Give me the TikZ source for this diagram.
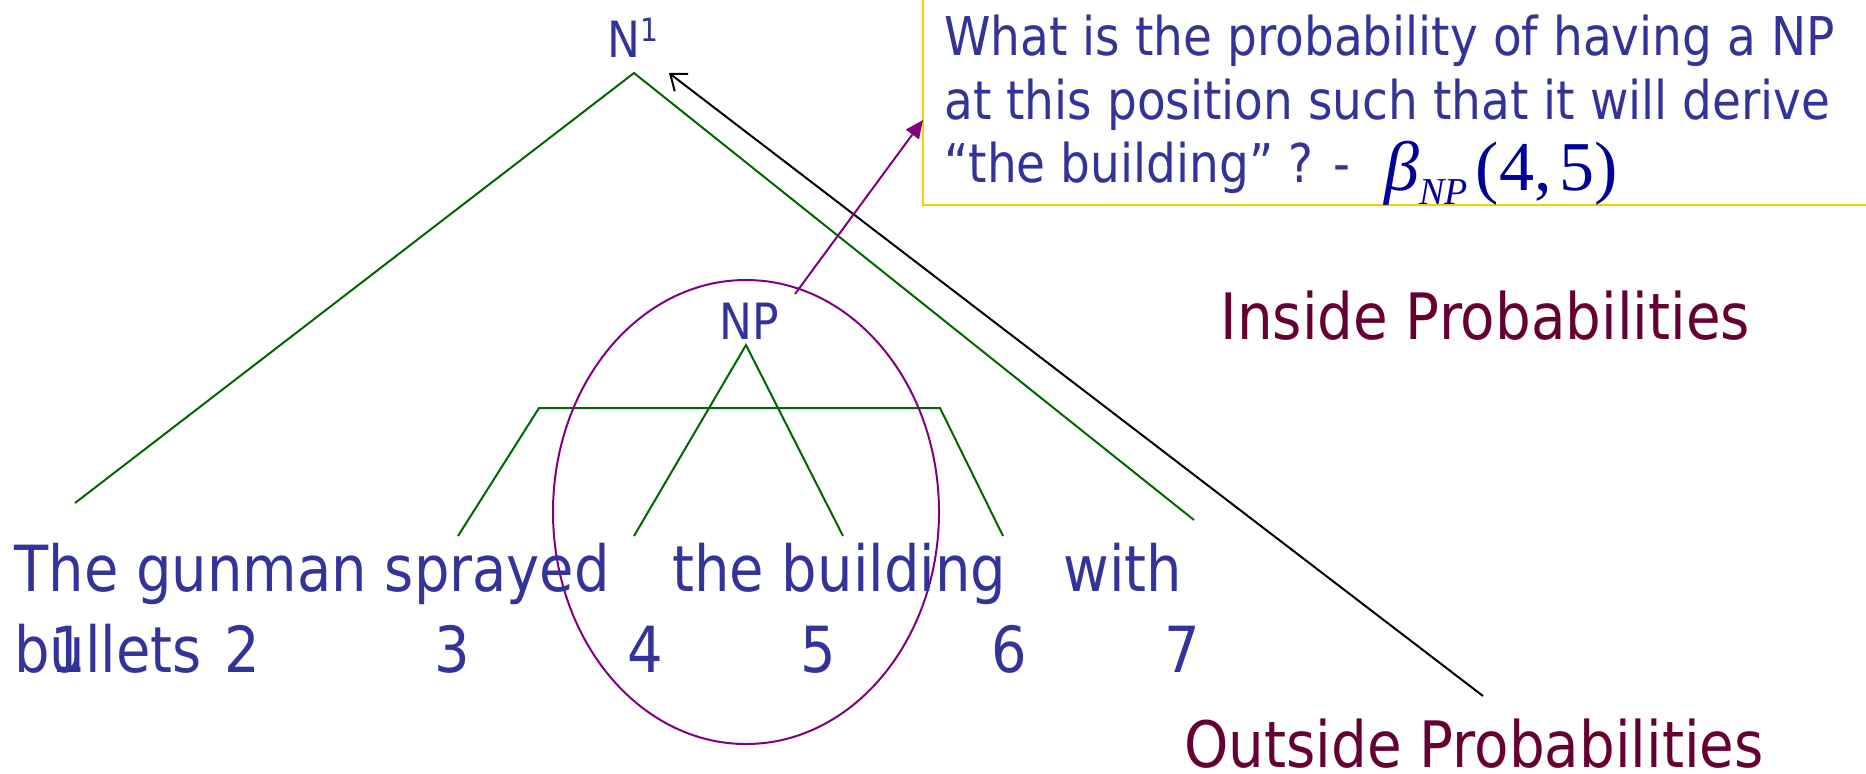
\documentclass[tikz,border=0pt]{standalone}
\usepackage{fontspec}
\setmainfont{DejaVu Sans}[FakeStretch=0.88]
\newfontfamily\tms{Liberation Serif}
\usetikzlibrary{arrows.meta}
\definecolor{txt}{HTML}{333399}
\definecolor{tree}{HTML}{006600}
\definecolor{purp}{HTML}{800080}
\definecolor{gold}{HTML}{FFCC00}
\definecolor{maroonc}{HTML}{660033}
\definecolor{betac}{HTML}{000099}
\begin{document}
\begin{tikzpicture}[x=0.5pt,y=-0.5pt,
  lbl/.style={inner sep=0pt, anchor=base west, text=txt},
  sent/.style={lbl, font=\fontsize{31.8pt}{38pt}\selectfont},
  boxtxt/.style={lbl, font=\fontsize{26.7pt}{32pt}\selectfont},
  cat/.style={lbl, font=\fontsize{25pt}{30pt}\selectfont},
  head/.style={inner sep=0pt, anchor=base west, text=maroonc, font=\fontsize{32pt}{38pt}\selectfont},
  treeline/.style={draw=tree, line width=1pt},
  outarrow/.style={draw=black, line width=1pt, -{Straight Barb[length=7pt,width=11pt,line width=1pt]}},
  inarrow/.style={draw=purp, line width=1pt, -{Triangle[length=9pt,width=8pt]}},
  qbox/.style={draw=gold, line width=1.2pt},
  ring/.style={draw=purp, line width=1pt}]
\useasboundingbox (0,0) rectangle (1866,773);

% question box
\draw[qbox] (923,-10) -- (923,205) -- (1876,205);
\node[boxtxt] (q1) at (944,55) {What is the probability of having a NP};
\node[boxtxt] (q2) at (944,119) {at this position such that it will derive};
\node[boxtxt] (q3) at (944,182) {“the building” ? -};
\node[inner sep=0pt, anchor=base west, text=betac, font=\tms\fontsize{35pt}{40pt}\selectfont] (beta) at (1384,190)
  {\itshape β\raisebox{-7pt}{\fontsize{19pt}{22pt}\selectfont NP}\upshape\kern4pt(4,\kern4pt5)};

% tree labels
\node[cat] (n1) at (607,57) {N\raisebox{8pt}{\fontsize{16pt}{18pt}\selectfont 1}};
\node[cat] (np) at (719,339) {NP};

% coordinates of tree
\coordinate (n1apex) at (634,73);
\coordinate (leftend) at (75,503);
\coordinate (rightend) at (1194,520);
\coordinate (npapex) at (746,345);
\coordinate (npl) at (634,536);
\coordinate (npr) at (843,536);
\coordinate (barl) at (539,408);
\coordinate (barr) at (940,408);
\coordinate (legl) at (458,536);
\coordinate (legr) at (1003,536);

\draw[treeline] (leftend) -- (n1apex) -- (rightend);
\draw[treeline] (npl) -- (npapex) -- (npr);
\draw[treeline] (legl) -- (barl) -- (barr) -- (legr);

% ellipse
\draw[ring] (746,512) ellipse [x radius=96.5pt, y radius=116pt];

% sentence
\node[sent] (w1) at (14,591) {The gunman sprayed};
\node[sent] (w2) at (672,591) {the building};
\node[sent] (w3) at (1063,591) {with};
\node[sent] (w4) at (14,672) {bullets};
\node[sent] (i1) at (50,672) {1};
\node[sent] (i2) at (224,672) {2};
\node[sent] (i3) at (434,672) {3};
\node[sent] (i4) at (627,672) {4};
\node[sent] (i5) at (800,672) {5};
\node[sent] (i6) at (991,672) {6};
\node[sent] (i7) at (1164,672) {7};

% headings
\node[head] (inside) at (1220,339) {Inside Probabilities};
\node[head] (outside) at (1184,767) {Outside Probabilities};

% arrows
\coordinate (outstart) at (1483,696);
\coordinate (outtip) at (669,73);
\draw[outarrow] (outstart) -- (outtip);
\coordinate (instart) at (795,294);
\coordinate (intip) at (923,120);
\draw[inarrow] (instart) -- (intip);
\end{tikzpicture}
\end{document}
